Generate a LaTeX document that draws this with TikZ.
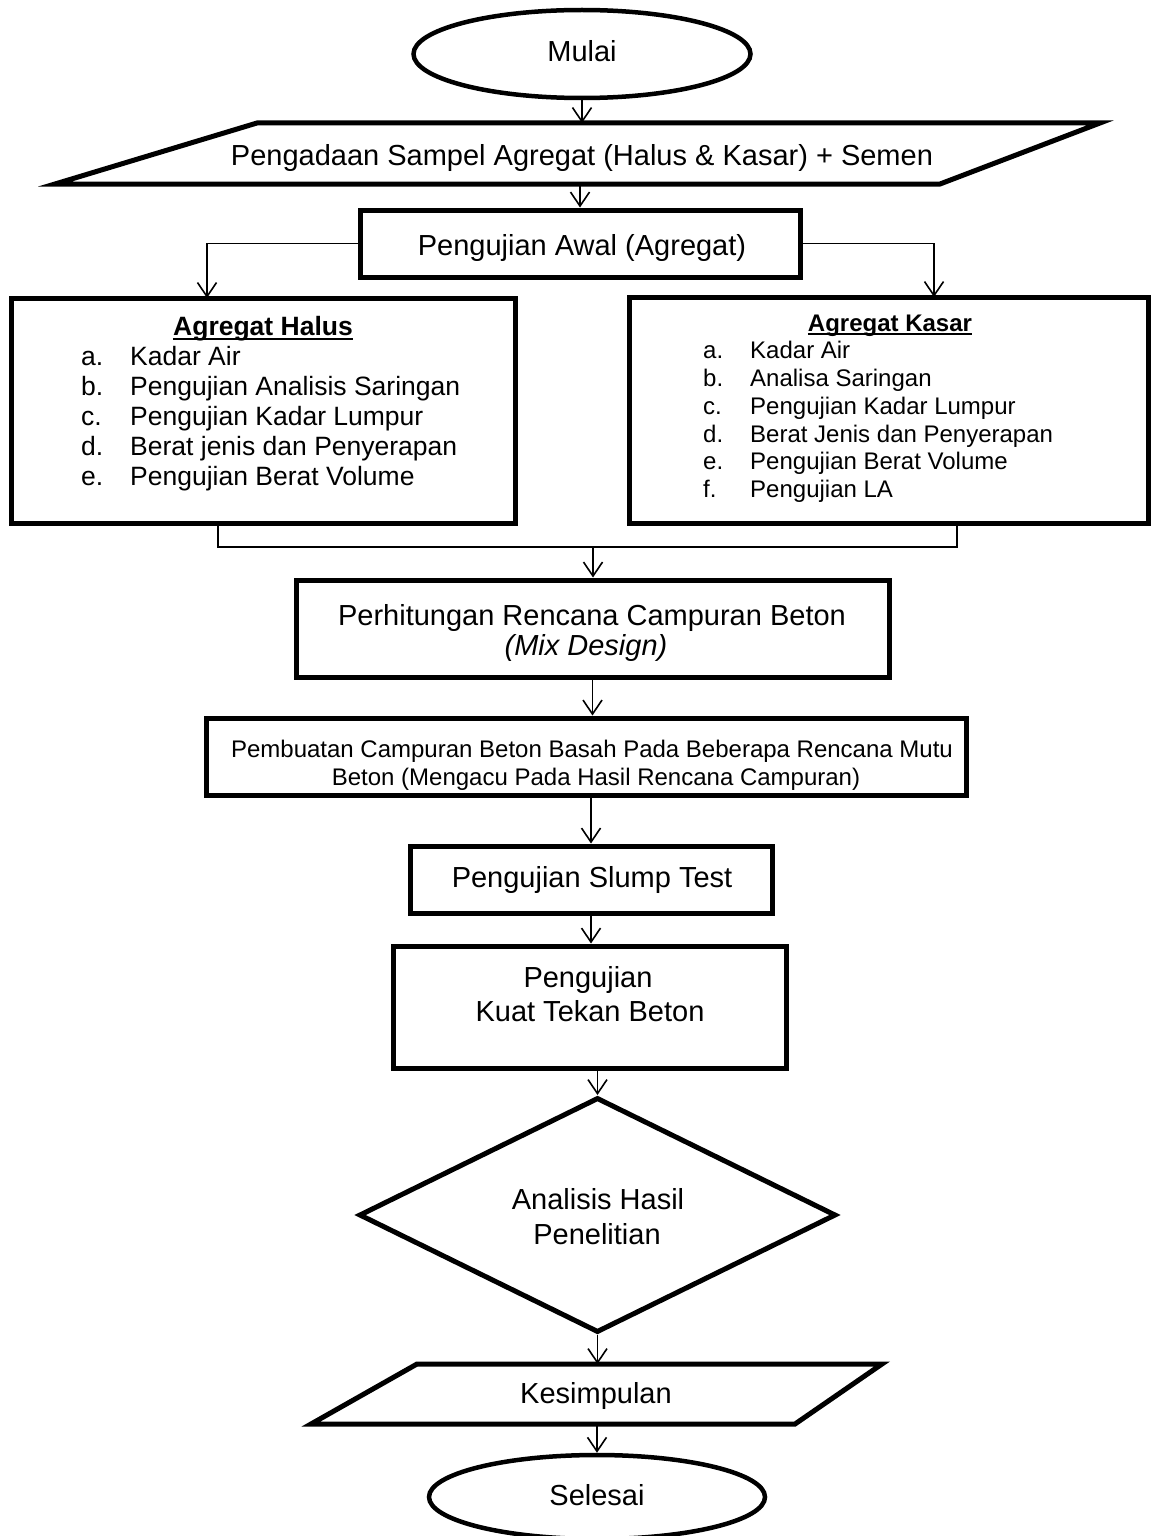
\documentclass[tikz,border=0pt]{standalone}
\usepackage{fontspec}
\setmainfont{Liberation Sans}
\usetikzlibrary{arrows.meta,shapes.geometric}
\begin{document}
\begin{tikzpicture}[x=1pt,y=-1pt,
  boxs/.style={draw,rectangle,line width=5pt,inner sep=0pt},
  oval/.style={draw,ellipse,line width=4.5pt,inner sep=0pt},
  poly/.style={line width=5pt,line join=miter},
  arr/.style={line width=1.6pt,-{Straight Barb[length=14pt,width=19pt]}},
  ln/.style={line width=1.6pt},
  tA/.style={font=\fontsize{29}{35}\selectfont,inner sep=0pt,anchor=base},
  tH/.style={font=\fontsize{26.5}{30}\selectfont,inner sep=0pt,anchor=base west},
  tK/.style={font=\fontsize{24}{28}\selectfont,inner sep=0pt,anchor=base west},
  tP/.style={font=\fontsize{24}{28}\selectfont,inner sep=0pt,anchor=base},
]
\useasboundingbox (0,0) rectangle (1151,1536);

% ---------- shapes ----------
\node[oval,minimum width=337pt,minimum height=88pt] (mulai) at (582,54) {};
\draw[poly] (257,123) -- (1100,123) -- (940,184) -- (55,184) -- cycle;
\coordinate (pgdT) at (582,123);
\coordinate (pgdB) at (580,184);
\node[boxs,minimum width=440pt,minimum height=67pt] (awal) at (580,243.5) {};
\node[boxs,minimum width=504pt,minimum height=225pt] (halus) at (263,410.5) {};
\node[boxs,minimum width=519pt,minimum height=226pt] (kasar) at (888.5,410) {};
\node[boxs,minimum width=593pt,minimum height=97pt] (perh) at (592.5,628.5) {};
\node[boxs,minimum width=760pt,minimum height=77pt] (pemb) at (586,756.5) {};
\node[boxs,minimum width=362pt,minimum height=67pt] (slump) at (591,879.5) {};
\node[boxs,minimum width=393pt,minimum height=122pt] (kuat) at (589.5,1007) {};
\node[draw,diamond,line width=5pt,inner sep=0pt,minimum width=477pt,minimum height=235pt] (anal) at (597.5,1215) {};
\draw[poly] (417,1364) -- (882,1364) -- (795,1424) -- (311,1424) -- cycle;
\coordinate (kesT) at (597,1364);
\coordinate (kesB) at (597,1424);
\node[oval,minimum width=336pt,minimum height=84pt] (sel) at (597,1497) {};

% ---------- texts ----------
\node[tA] (mulaiT) at (582,62) {Mulai};
\node[tA] (pgdText) at (582,165) {Pengadaan Sampel Agregat (Halus \& Kasar) + Semen};
\node[tA] (awalT) at (582,255) {Pengujian Awal (Agregat)};

\node[font=\bfseries\fontsize{26.5}{30}\selectfont,inner sep=0pt,anchor=base] (htitle) at (263,335) {Agregat Halus};
\draw[line width=2pt] ([yshift=-3.5pt]htitle.base west) -- ([yshift=-3.5pt]htitle.base east);
\foreach \l/\t/\yy [count=\i] in {a./Kadar Air/365, b./Pengujian Analisis Saringan/395, c./Pengujian Kadar Lumpur/425, d./Berat jenis dan Penyerapan/455, e./Pengujian Berat Volume/485}{
  \node[tH] (hl\i) at (81,\yy) {\l};
  \node[tH] (ht\i) at (130,\yy) {\t};
}

\node[font=\bfseries\fontsize{24}{28}\selectfont,inner sep=0pt,anchor=base] (ktitle) at (890,331) {Agregat Kasar};
\draw[line width=2pt] ([yshift=-3.2pt]ktitle.base west) -- ([yshift=-3.2pt]ktitle.base east);
\foreach \l/\t/\yy [count=\i] in {a./Kadar Air/358, b./Analisa Saringan/386, c./Pengujian Kadar Lumpur/414, d./Berat Jenis dan Penyerapan/442, e./Pengujian Berat Volume/469, f./Pengujian LA/497}{
  \node[tK] (kl\i) at (703,\yy) {\l};
  \node[tK] (kt\i) at (750,\yy) {\t};
}

\node[tA] (perhT1) at (592,625) {Perhitungan Rencana Campuran Beton};
\node[tA] (perhT2) at (586,655) {\itshape (Mix Design)};
\node[tP] (pembT1) at (592,757) {Pembuatan Campuran Beton Basah Pada Beberapa Rencana Mutu};
\node[tP] (pembT2) at (596,785) {Beton (Mengacu Pada Hasil Rencana Campuran)};
\node[tA] (slumpT) at (592,887) {Pengujian Slump Test};
\node[tA] (kuatT1) at (588,987) {Pengujian};
\node[tA] (kuatT2) at (590,1021) {Kuat Tekan Beton};
\node[tA] (analT1) at (598,1209) {Analisis Hasil};
\node[tA] (analT2) at (597,1244) {Penelitian};
\node[tA] (kesT0) at (596,1403) {Kesimpulan};
\node[tA] (selT) at (597,1505) {Selesai};

% ---------- connectors ----------
\draw[arr] (mulai.south) -- (mulai.south |- pgdT);
\draw[arr] (pgdB) -- (pgdB |- awal.north);
\coordinate (hTop) at (207,298);
\coordinate (kTop) at (934,297);
\draw[arr] (awal.west) -| (hTop);
\draw[arr] (awal.east) -| (kTop);
\coordinate (hBot) at (218,523);
\coordinate (kBot) at (957,523);
\coordinate (junc) at (593,547);
\draw[ln] (hBot) |- (junc);
\draw[ln] (kBot) |- (junc);
\draw[arr] (junc) -- (junc |- perh.north);
\draw[arr] (perh.south) -- (perh.south |- pemb.north);
\draw[arr] (slump.north |- pemb.south) -- (slump.north);
\draw[arr] (slump.south) -- (slump.south |- kuat.north);
\draw[arr] (anal.north |- kuat.south) -- (anal.north);
\draw[arr] (anal.south) -- (anal.south |- kesT);
\draw[arr] (kesB) -- (kesB |- sel.north);
\end{tikzpicture}
\end{document}
